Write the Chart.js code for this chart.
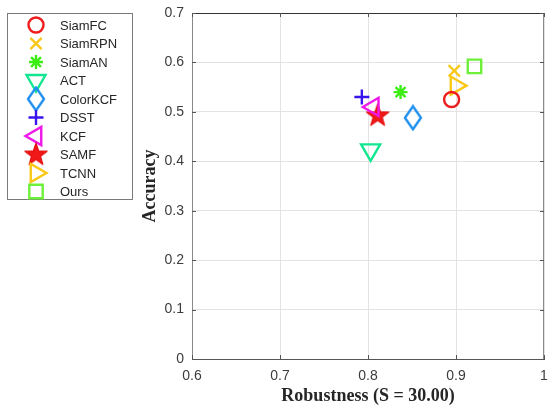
<!DOCTYPE html>
<html><head><meta charset="utf-8">
<script src="https://cdn.jsdelivr.net/npm/chart.js@4/dist/chart.umd.min.js"></script>
<style>html,body{margin:0;padding:0;background:#fff}#wrap{width:548px;height:407px;position:relative}</style>
</head><body><div id="wrap"><canvas id="c" width="548" height="407"></canvas></div>
<script>
const methods = ['SiamFC','SiamRPN','SiamAN','ACT','ColorKCF','DSST','KCF','SAMF','TCNN','Ours'];
const robustness = [0.895, 0.898, 0.837, 0.803, 0.851, 0.793, 0.806, 0.811, 0.900, 0.921];
const accuracy   = [0.525, 0.583, 0.540, 0.423, 0.488, 0.530, 0.510, 0.493, 0.553, 0.592];
const xTickLabels = ['0.6','0.7','0.8','0.9','1'];
const yTickLabels = ['0','0.1','0.2','0.3','0.4','0.5','0.6','0.7'];
const xTitle = 'Robustness (S = 30.00)';
const yTitle = 'Accuracy';

function makeCanvas(w,h,fn){const c=document.createElement('canvas');c.width=w;c.height=h;fn(c.getContext('2d'));return c;}
const diamondImg = makeCanvas(20,27,ctx=>{ctx.strokeStyle='#1f8fef';ctx.lineWidth=2.4;ctx.beginPath();ctx.moveTo(10,2);ctx.lineTo(18,13.5);ctx.lineTo(10,25);ctx.lineTo(2,13.5);ctx.closePath();ctx.stroke();});
const starImg = makeCanvas(26,26,ctx=>{ctx.fillStyle='#f01818';ctx.strokeStyle='#e00000';ctx.lineWidth=1;ctx.beginPath();for(let i=0;i<10;i++){const r=i%2?4.8:12;const a=-Math.PI/2+i*Math.PI/5;const x=13+r*Math.cos(a),y=13.5+r*Math.sin(a);i?ctx.lineTo(x,y):ctx.moveTo(x,y);}ctx.closePath();ctx.fill();ctx.stroke();});

const styles = [
 {color:'#ee1c1c', pointStyle:'circle', radius:7.5, rotation:0},
 {color:'#f7c81a', pointStyle:'crossRot', radius:8, rotation:0},
 {color:'#3cee14', pointStyle:'star', radius:7, rotation:0},
 {color:'#12e690', pointStyle:'triangle', radius:11, rotation:180},
 {color:'#1f8fef', pointStyle:diamondImg, radius:10, rotation:0},
 {color:'#3a14ee', pointStyle:'cross', radius:7.5, rotation:0},
 {color:'#ee18e8', pointStyle:'triangle', radius:10.5, rotation:-90},
 {color:'#f01818', pointStyle:starImg, radius:12, rotation:0},
 {color:'#fbc816', pointStyle:'triangle', radius:10.5, rotation:90},
 {color:'#6ef03a', pointStyle:'rect', radius:9.5, rotation:0}
];

const datasets = methods.map((m,i)=>({
  label:m,
  data:[{x:robustness[i], y:accuracy[i]}],
  pointStyle:styles[i].pointStyle,
  pointRadius:styles[i].radius,
  pointHoverRadius:styles[i].radius,
  pointRotation:styles[i].rotation,
  borderColor:styles[i].color,
  backgroundColor:'rgba(0,0,0,0)',
  pointBorderWidth:2.4,
  showLine:false,
  clip:false
}));

const legendPlugin = {
  id:'boxLegend',
  afterDraw(chart){
    const ctx=chart.ctx;
    ctx.save();
    ctx.strokeStyle='#7a7a7a';ctx.lineWidth=1;
    ctx.strokeRect(7.5,13.5,125,186);
    ctx.font='13px "Liberation Sans", Arial, sans-serif';
    ctx.textBaseline='middle';ctx.textAlign='left';
    methods.forEach((m,i)=>{
      const y=25+i*18.5, x=36;
      const s=styles[i];
      ctx.strokeStyle=s.color;ctx.fillStyle='rgba(0,0,0,0)';ctx.lineWidth=2.4;
      Chart.helpers.drawPoint(ctx,{pointStyle:s.pointStyle,rotation:s.rotation,radius:s.radius,borderWidth:2.4},x,y);
      ctx.fillStyle='#262626';
      ctx.fillText(m,60,y+1);
    });
    const a=chart.chartArea, xs=chart.scales.x, ys=chart.scales.y;
    ctx.lineWidth=1;
    ctx.strokeStyle='#333';ctx.beginPath();ctx.moveTo(a.left,a.top+0.5);ctx.lineTo(a.right,a.top+0.5);ctx.stroke();
    ctx.strokeStyle='#8a8a8a';ctx.beginPath();ctx.moveTo(a.right-0.5,a.top);ctx.lineTo(a.right-0.5,a.bottom);ctx.stroke();
    ctx.strokeStyle='#555';
    xs.ticks.forEach(t=>{const px=Math.round(xs.getPixelForValue(t.value))+0.5;ctx.beginPath();ctx.moveTo(px,a.bottom);ctx.lineTo(px,a.bottom-4);ctx.moveTo(px,a.top);ctx.lineTo(px,a.top+4);ctx.stroke();});
    ys.ticks.forEach(t=>{const py=Math.round(ys.getPixelForValue(t.value))+0.5;ctx.beginPath();ctx.moveTo(a.left,py);ctx.lineTo(a.left+4,py);ctx.moveTo(a.right,py);ctx.lineTo(a.right-4,py);ctx.stroke();});
    ctx.restore();
  }
};

new Chart(document.getElementById('c'),{
  type:'scatter',
  data:{datasets},
  options:{
    responsive:false,animation:false,
    layout:{autoPadding:false,padding:{left:140,right:4,top:13,bottom:0}},
    plugins:{legend:{display:false},tooltip:{enabled:false}},
    scales:{
      x:{type:'linear',min:0.6,max:1,
        ticks:{stepSize:0.1,padding:0,color:'#3c3c3c',font:{family:'"Liberation Sans", Arial, sans-serif',size:14},
          callback:(v,i)=>xTickLabels[i]},
        grid:{color:'#e3e3e3',drawTicks:true,tickLength:9,tickColor:'rgba(0,0,0,0)'},
        border:{color:'#555',width:1},
        title:{display:true,text:xTitle,color:'#262626',font:{family:'"Liberation Serif", "Times New Roman", serif',size:18,weight:'bold'},padding:{top:2,bottom:0}},
        afterFit:s=>{s.height=48;}
      },
      y:{type:'linear',min:0,max:0.7,
        ticks:{stepSize:0.1,padding:0,color:'#3c3c3c',font:{family:'"Liberation Sans", Arial, sans-serif',size:14},
          callback:(v,i)=>yTickLabels[i]},
        grid:{color:'#e3e3e3',drawTicks:true,tickLength:8,tickColor:'rgba(0,0,0,0)'},
        border:{color:'#888',width:1},
        title:{display:true,text:yTitle,color:'#262626',font:{family:'"Liberation Serif", "Times New Roman", serif',size:18,weight:'bold'},padding:{top:0,bottom:0}},
        afterFit:s=>{s.width=52;}
      }
    }
  },
  plugins:[legendPlugin]
});
</script></body></html>
